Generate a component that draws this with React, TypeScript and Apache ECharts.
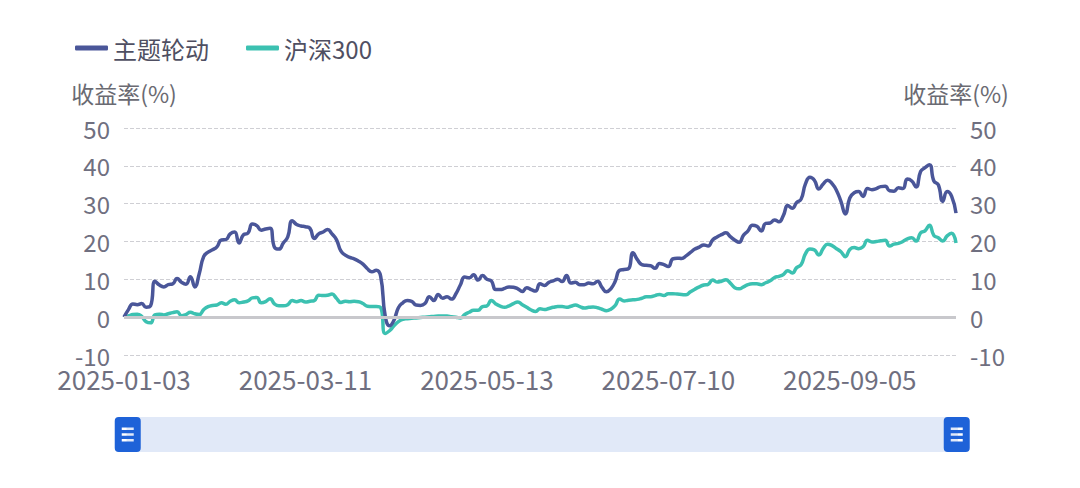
import React, { useEffect, useRef } from "react";
import * as echarts from "echarts";

const seriesNames = ["主题轮动", "沪深300"];
const startDate = "2025-01-03";
const marketHolidays = [
  "2025-01-01", "2025-01-28", "2025-01-29", "2025-01-30", "2025-01-31", "2025-02-03", "2025-02-04",
  "2025-04-04", "2025-05-01", "2025-05-02", "2025-05-05", "2025-06-02",
  "2025-10-01", "2025-10-02", "2025-10-03", "2025-10-06", "2025-10-07", "2025-10-08",
];

const themeRotation = [
  0, 2.0, 3.5, 3.3, 3.6, 2.6, 3.0, 9.5, 8.5, 8.0,
  8.6, 8.8, 10.2, 9.2, 8.7, 10.7, 8.0, 11.5, 16.0, 17.2,
  17.8, 18.6, 20.4, 20.5, 22.0, 22.5, 19.6, 21.8, 22.2, 24.6,
  24.2, 23.0, 23.3, 23.5, 18.5, 18.0, 19.6, 21.2, 25.5, 24.5,
  24.1, 23.9, 23.5, 20.8, 22.0, 22.5, 23.2, 22.0, 20.5, 17.5,
  16.4, 15.8, 15.4, 14.8, 14.0, 12.8, 12.0, 12.4, 10.8, 0.5,
  -2.3, -0.8, 2.5, 3.8, 4.4, 4.2, 3.2, 3.1, 3.6, 5.4,
  4.4, 6.0, 5.0, 5.4, 4.8, 6.2, 8.5, 10.6, 10.4, 11.2,
  9.8, 11.0, 10.0, 9.6, 7.3, 7.3, 7.6, 8.0, 7.9, 7.5,
  6.8, 7.8, 7.3, 6.9, 8.8, 8.4, 9.2, 9.6, 10.0, 9.4,
  11.0, 9.0, 9.2, 8.6, 8.6, 9.0, 8.8, 9.5, 7.9, 6.7,
  7.5, 9.5, 12.4, 12.6, 12.8, 17.0, 15.2, 13.9, 13.7, 13.6,
  12.9, 14.2, 13.9, 13.4, 15.4, 15.6, 15.5, 16.2, 17.1, 18.0,
  18.5, 19.1, 18.8, 20.4, 21.2, 21.8, 22.3, 21.3, 20.4, 19.8,
  21.7, 22.8, 24.3, 24.0, 22.8, 24.8, 24.9, 25.7, 25.2, 26.9,
  29.5, 28.8, 30.3, 31.2, 35.3, 37.0, 36.2, 33.9, 35.2, 36.2,
  35.3, 33.5, 30.6, 27.3, 31.5, 32.9, 33.2, 31.9, 34.0, 33.7,
  34.0, 34.5, 34.6, 33.4, 33.3, 34.2, 34.0, 36.5, 36.0, 34.4,
  38.5, 39.5, 40.3, 36.0, 35.0, 30.6, 33.2, 32.0, 27.5,
];

const csi300 = [
  0, 0.3, 0.7, 0.8, 0.2, -1.2, -1.5, 0.6, 0.8, 0.6,
  0.9, 1.2, 1.4, 0.4, 0.7, 1.3, 0.9, 0.7, 2.0, 2.8,
  3.1, 3.2, 3.8, 3.4, 4.2, 4.6, 3.8, 4.0, 4.3, 5.1,
  5.2, 3.8, 4.1, 4.9, 3.5, 3.0, 3.0, 3.3, 4.4, 4.1,
  4.4, 4.0, 4.2, 4.4, 5.8, 5.7, 5.8, 6.1, 5.0, 3.9,
  4.2, 4.1, 4.2, 4.1, 3.6, 2.9, 2.8, 2.8, 2.5, -4.3,
  -3.6, -2.3, -1.2, -0.6, -0.4, -0.3, -0.2, -0.1, 0, 0.1,
  0.2, 0.3, 0.3, 0.3, 0.1, 0, -0.2, 0.7, 1.3, 1.8,
  1.8, 2.8, 3.0, 4.4, 3.5, 2.9, 2.6, 3.0, 3.6, 4.0,
  3.3, 2.6, 1.9, 1.5, 2.2, 2.0, 2.3, 2.6, 2.8, 2.8,
  2.6, 2.9, 3.2, 2.8, 2.4, 2.6, 2.7, 2.5, 2.1, 1.7,
  2.1, 3.1, 4.8, 4.3, 4.5, 4.6, 4.7, 5.0, 5.4, 5.4,
  5.7, 6.0, 5.7, 6.2, 6.2, 6.1, 6.0, 5.9, 6.7, 7.4,
  8.0, 8.5, 8.7, 9.8, 9.3, 9.5, 9.9, 9.0, 7.8, 7.5,
  8.0, 8.6, 8.8, 8.8, 8.6, 9.1, 9.6, 10.5, 10.8, 11.3,
  12.3, 11.7, 13.1, 13.9, 16.8, 18.0, 17.8, 16.4, 18.2, 19.3,
  18.9, 18.1, 17.3, 16.0, 17.9, 18.4, 18.1, 18.6, 20.3, 19.9,
  20.0, 20.2, 20.3, 18.8, 19.3, 19.5, 20.0, 20.7, 21.0, 20.1,
  22.3, 22.8, 24.3, 21.6, 21.0, 20.1, 21.5, 22.2, 19.6,
];

const yTicks = { min: -10, max: 50, interval: 10 };

function tradingDays(start: string, count: number, holidays: string[]): string[] {
  const out: string[] = [];
  const d = new Date(start + "T00:00:00Z");
  while (out.length < count) {
    const s = d.toISOString().slice(0, 10);
    const wd = d.getUTCDay();
    if (wd !== 0 && wd !== 6 && holidays.indexOf(s) < 0) out.push(s);
    d.setUTCDate(d.getUTCDate() + 1);
  }
  return out;
}

const handlePath =
  "path://M4,0 H22 Q26,0 26,4 V31 Q26,35 22,35 H4 Q0,35 0,31 V4 Q0,0 4,0 Z " +
  "M7,10.5 V13 H19 V10.5 Z M7,16.3 V18.8 H19 V16.3 Z M7,22 V24.5 H19 V22 Z";

export default function App() {
  const ref = useRef<HTMLDivElement>(null);
  useEffect(() => {
    if (!ref.current) return;
    const chart = echarts.init(ref.current, undefined, { renderer: "svg" });
    const dates = tradingDays(startDate, themeRotation.length, marketHolidays);
    const font = "'Noto Sans CJK SC', 'Noto Sans', sans-serif";
    const labelColor = "#6f6f80";
    const yAxisBase = {
      type: "value",
      min: yTicks.min,
      max: yTicks.max,
      interval: yTicks.interval,
      name: "收益率(%)",
      nameLocation: "end",
      nameGap: 24,
      nameTextStyle: { color: "#6a6a72", fontSize: 23, fontFamily: font },
      axisLine: { show: false },
      axisTick: { show: false },
      axisLabel: { color: labelColor, fontSize: 24, margin: 14, fontFamily: font },
    };
    chart.setOption({
      animation: false,
      textStyle: { fontFamily: font },
      legend: {
        data: seriesNames,
        left: 70,
        top: 31,
        icon: "roundRect",
        itemWidth: 33,
        itemHeight: 5,
        itemGap: 37,
        textStyle: { color: "#4f4f62", fontSize: 24, fontFamily: font },
      },
      grid: { left: 124, right: 124, top: 128, bottom: 133, containLabel: false },
      xAxis: {
        type: "category",
        data: dates,
        boundaryGap: false,
        axisLine: { show: false },
        axisTick: { show: false },
        axisLabel: { interval: 40, color: labelColor, fontSize: 26, margin: 10, fontFamily: font },
        splitLine: { show: false },
      },
      yAxis: [
        {
          ...yAxisBase,
          position: "left",
          splitLine: { show: true, lineStyle: { type: "dashed", color: "#cfcfd4", width: 1 } },
        },
        {
          ...yAxisBase,
          position: "right",
          splitLine: { show: false },
        },
      ],
      dataZoom: [
        {
          type: "slider",
          xAxisIndex: 0,
          start: 0,
          end: 100,
          left: 126,
          right: 123,
          top: 417,
          height: 35,
          showDetail: false,
          showDataShadow: false,
          brushSelect: false,
          moveHandleSize: 0,
          borderColor: "transparent",
          backgroundColor: "#e1e9f8",
          fillerColor: "#e1e9f8",
          handleIcon: handlePath,
          handleSize: "100%",
          handleStyle: { color: "#1e62d8", borderWidth: 0, borderColor: "#1e62d8" },
          emphasis: { handleStyle: { color: "#1e62d8", borderWidth: 0 } },
        },
        { type: "inside", xAxisIndex: 0 },
      ],
      series: [
        {
          name: "zero",
          type: "line",
          data: [],
          z: 1,
          silent: true,
          markLine: {
            silent: true,
            symbol: "none",
            label: { show: false },
            lineStyle: { color: "#c8c8cc", type: "solid", width: 3 },
            data: [{ yAxis: 0 }],
          },
        },
        {
          name: seriesNames[0],
          type: "line",
          data: themeRotation,
          yAxisIndex: 0,
          z: 3,
          smooth: true,
          showSymbol: false,
          lineStyle: { color: "#4a5699", width: 3.5 },
          itemStyle: { color: "#4a5699" },
        },
        {
          name: seriesNames[1],
          type: "line",
          data: csi300,
          yAxisIndex: 0,
          z: 2,
          smooth: true,
          showSymbol: false,
          lineStyle: { color: "#3cc1b1", width: 3.5 },
          itemStyle: { color: "#3cc1b1" },
        },
      ],
    });
    return () => chart.dispose();
  }, []);
  return <div ref={ref} style={{ width: 1080, height: 488, position: "absolute", left: 0, top: 0 }} />;
}
